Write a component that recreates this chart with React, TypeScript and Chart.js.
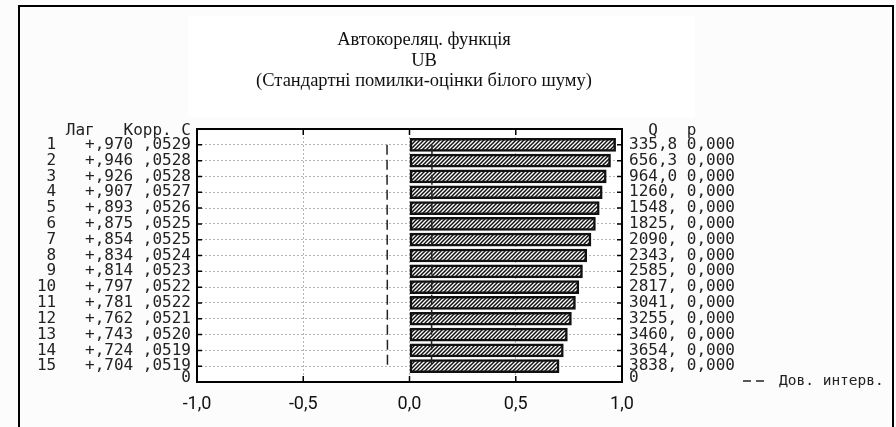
import React, { useEffect, useRef } from 'react';
import { Chart, registerables } from 'chart.js';

Chart.register(...registerables);

const lags = [1, 2, 3, 4, 5, 6, 7, 8, 9, 10, 11, 12, 13, 14, 15];
const acf = [0.970, 0.946, 0.926, 0.907, 0.893, 0.875, 0.854, 0.834, 0.814, 0.797, 0.781, 0.762, 0.743, 0.724, 0.704];
const stdErr = [0.0529, 0.0528, 0.0528, 0.0527, 0.0526, 0.0525, 0.0525, 0.0524, 0.0523, 0.0522, 0.0522, 0.0521, 0.0520, 0.0519, 0.0519];
const qStat = [335.8, 656.3, 964.0, 1260, 1548, 1825, 2090, 2343, 2585, 2817, 3041, 3255, 3460, 3654, 3838];
const pValues = [0, 0, 0, 0, 0, 0, 0, 0, 0, 0, 0, 0, 0, 0, 0];
const xTicks = [-1, -0.5, 0, 0.5, 1];
const innerXTicks = [-0.5, 0, 0.5];
const titleLines = ['Автокореляц. функція', 'UB', '(Стандартні помилки-оцінки білого шуму)'];
const leftHeader = 'Лаг   Корр. С';
const rightHeader = '  Q   p';
const bottomLabel = '0';
const legendLabel = 'Дов. интерв.';

const HEADER_POS = 0.1;
const ZERO_POS = 15.75;
const yTickValues = [HEADER_POS, ...lags, ZERO_POS];

const MONO = '"DejaVu Sans Mono", monospace';

const fmtAcf = (v: number) => (v >= 0 ? '+' : '-') + Math.abs(v).toFixed(3).slice(1).replace('.', ',');
const fmtSe = (v: number) => v.toFixed(4).slice(1).replace('.', ',');
const fmtQ = (v: number) => (v < 1000 ? v.toFixed(1).replace('.', ',') : Math.round(v) + ',');
const fmtP = (v: number) => v.toFixed(3).replace('.', ',');
const fmtX = (v: number) => v.toFixed(1).replace('.', ',');

function makeHatch(): CanvasPattern | string {
  const c = document.createElement('canvas');
  c.width = 4;
  c.height = 4;
  const g = c.getContext('2d');
  if (!g) return '#888';
  g.fillStyle = '#ffffff';
  g.fillRect(0, 0, 4, 4);
  g.strokeStyle = '#111111';
  g.lineWidth = 1.5;
  g.beginPath();
  g.moveTo(0, 4); g.lineTo(4, 0);
  g.moveTo(-1, 1); g.lineTo(1, -1);
  g.moveTo(3, 5); g.lineTo(5, 3);
  g.stroke();
  return g.createPattern(c, 'repeat') || '#888';
}

const decorPlugin = {
  id: 'decor',
  beforeDraw(chart: any) {
    const { ctx, chartArea } = chart;
    ctx.save();
    ctx.fillStyle = '#fcfcfc';
    ctx.fillRect(0, 0, chart.width, chart.height);
    ctx.fillStyle = '#ffffff';
    ctx.fillRect(188, 16, 507, 101);
    ctx.fillRect(chartArea.left, chartArea.top, chartArea.right - chartArea.left, chartArea.bottom - chartArea.top);
    ctx.restore();
  },
  afterDraw(chart: any) {
    const { ctx, chartArea } = chart;
    const xs = chart.scales.x;
    const ys = chart.scales.y;
    ctx.save();
    // plot frame
    ctx.strokeStyle = '#000';
    ctx.lineWidth = 2;
    ctx.strokeRect(chartArea.left, chartArea.top, chartArea.right - chartArea.left, chartArea.bottom - chartArea.top);
    // inner tick marks
    ctx.lineWidth = 1.5;
    ctx.beginPath();
    lags.forEach((l) => {
      const py = ys.getPixelForValue(l);
      ctx.moveTo(chartArea.left, py); ctx.lineTo(chartArea.left + 5, py);
      ctx.moveTo(chartArea.right - 5, py); ctx.lineTo(chartArea.right, py);
    });
    innerXTicks.forEach((v) => {
      const px = xs.getPixelForValue(v);
      ctx.moveTo(px, chartArea.top); ctx.lineTo(px, chartArea.top + 6);
      ctx.moveTo(px, chartArea.bottom); ctx.lineTo(px, chartArea.bottom - 6);
    });
    ctx.stroke();
    // outer frame
    ctx.lineWidth = 2;
    ctx.strokeRect(19, 6, 874, 440);
    // title
    ctx.fillStyle = '#111';
    ctx.font = '18.5px "Liberation Serif", serif';
    ctx.textAlign = 'center';
    ctx.textBaseline = 'alphabetic';
    titleLines.forEach((t, i) => ctx.fillText(t, 424, 45 + i * 20.5));
    // legend
    ctx.strokeStyle = '#222';
    ctx.lineWidth = 1.5;
    ctx.setLineDash([8, 5]);
    ctx.beginPath();
    ctx.moveTo(743, 381); ctx.lineTo(764, 381);
    ctx.stroke();
    ctx.setLineDash([]);
    ctx.font = '14.5px ' + MONO;
    ctx.textAlign = 'left';
    ctx.textBaseline = 'middle';
    ctx.fillStyle = '#222';
    ctx.fillText(legendLabel, 779, 381);
    ctx.restore();
  },
};

export default function App() {
  const canvasRef = useRef<HTMLCanvasElement | null>(null);

  useEffect(() => {
    if (!canvasRef.current) return;
    const hatch = makeHatch();
    const gridColor = (c: any) => {
      const v = c.tick ? c.tick.value : NaN;
      return Number.isInteger(v) && v >= 1 && v <= 15 ? '#b4b4b4' : 'rgba(0,0,0,0)';
    };
    const chart = new Chart(canvasRef.current, {
      type: 'bar',
      data: {
        datasets: [
          {
            type: 'line',
            label: legendLabel,
            indexAxis: 'y',
            data: lags.map((l, i) => ({ x: -2 * stdErr[i], y: l })),
            borderColor: '#222',
            borderWidth: 1.5,
            borderDash: [10, 5],
            pointRadius: 0,
            fill: false,
            tension: 0,
            xAxisID: 'x',
            yAxisID: 'y',
            order: 1,
          } as any,
          {
            type: 'line',
            label: legendLabel,
            indexAxis: 'y',
            data: lags.map((l, i) => ({ x: 2 * stdErr[i], y: l })),
            borderColor: '#222',
            borderWidth: 1.5,
            borderDash: [10, 5],
            pointRadius: 0,
            fill: false,
            tension: 0,
            xAxisID: 'x',
            yAxisID: 'y',
            order: 1,
          } as any,
          {
            type: 'bar',
            label: 'ACF',
            indexAxis: 'y',
            data: lags.map((l, i) => ({ x: acf[i], y: l })),
            backgroundColor: hatch as any,
            borderColor: '#111111',
            borderWidth: 2.5,
            borderSkipped: false,
            barThickness: 13,
            xAxisID: 'x',
            yAxisID: 'y',
            order: 2,
          } as any,
        ],
      },
      options: {
        indexAxis: 'y',
        animation: false,
        responsive: true,
        maintainAspectRatio: false,
        layout: { padding: { top: 129, left: 0, right: 0, bottom: 0 } },
        plugins: {
          legend: { display: false },
          title: { display: false },
          tooltip: { enabled: false },
        },
        scales: {
          x: {
            type: 'linear',
            position: 'bottom',
            min: -1,
            max: 1,
            offset: false,
            afterBuildTicks: (s: any) => { s.ticks = xTicks.map((v) => ({ value: v })); },
            afterFit: (s: any) => { s.height = 45; },
            grid: { color: '#b4b4b4', drawTicks: false, lineWidth: 1, offset: false },
            border: { display: false, dash: [2, 2] },
            ticks: {
              padding: 12,
              color: '#111',
              font: { family: 'Roboto, sans-serif', size: 18 },
              callback: (v: any) => fmtX(Number(v)),
            },
          },
          y: {
            type: 'linear',
            position: 'left',
            reverse: true,
            min: 0,
            max: 16,
            offset: false,
            afterBuildTicks: (s: any) => { s.ticks = yTickValues.map((v) => ({ value: v })); },
            afterFit: (s: any) => { s.width = 197; },
            grid: { color: gridColor as any, drawTicks: false, lineWidth: 1, offset: false },
            border: { display: false, dash: [2, 2] },
            ticks: {
              autoSkip: false,
              padding: 6,
              color: '#222',
              font: { family: MONO, size: 16 },
              callback: (v: any) => {
                const n = Number(v);
                if (n === HEADER_POS) return leftHeader;
                if (n === ZERO_POS) return bottomLabel;
                const i = lags.indexOf(n);
                if (i < 0) return '';
                return String(lags[i]).padStart(2, ' ') + '   ' + fmtAcf(acf[i]) + ' ' + fmtSe(stdErr[i]);
              },
            },
          },
          y2: {
            type: 'linear',
            position: 'right',
            reverse: true,
            min: 0,
            max: 16,
            offset: false,
            afterBuildTicks: (s: any) => { s.ticks = yTickValues.map((v) => ({ value: v })); },
            afterFit: (s: any) => { s.width = 274; },
            grid: { display: false, drawTicks: false, drawOnChartArea: false, offset: false },
            border: { display: false },
            ticks: {
              autoSkip: false,
              padding: 7,
              color: '#222',
              font: { family: MONO, size: 16 },
              callback: (v: any) => {
                const n = Number(v);
                if (n === HEADER_POS) return rightHeader;
                if (n === ZERO_POS) return bottomLabel;
                const i = lags.indexOf(n);
                if (i < 0) return '';
                return fmtQ(qStat[i]) + ' ' + fmtP(pValues[i]);
              },
            },
          },
        },
      } as any,
      plugins: [decorPlugin],
    });
    return () => chart.destroy();
  }, []);

  return (
    <div style={{ position: 'absolute', left: 0, top: 0, width: 896, height: 427 }}>
      <canvas ref={canvasRef} style={{ display: 'block' }} />
    </div>
  );
}
